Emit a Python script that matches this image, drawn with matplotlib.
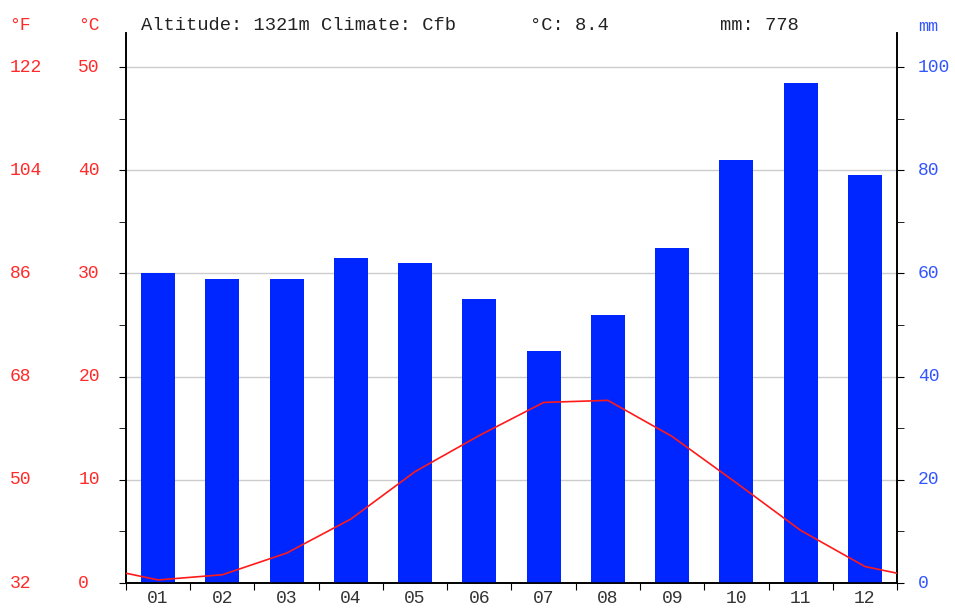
import numpy as np
import matplotlib
matplotlib.use("Agg")
import matplotlib.pyplot as plt
from matplotlib.ticker import MultipleLocator
from matplotlib.transforms import blended_transform_factory

months = ["01", "02", "03", "04", "05", "06", "07", "08", "09", "10", "11", "12"]
precip_mm = [60, 59, 59, 63, 62, 55, 45, 52, 65, 82, 97, 79]
temp_c = [0.3, 0.8, 2.9, 6.2, 10.8, 14.3, 17.5, 17.7, 14.2, 9.7, 5.1, 1.6]
altitude = 1321
climate = "Cfb"

red = "#ff2a2a"
blue = "#3355ff"
bar_blue = "#0026ff"
font = "Liberation Mono"
plt.rcParams["font.family"] = [font, "DejaVu Sans"]
fs = 13

fig = plt.figure(figsize=(9.55, 6.11), dpi=100)
ax = fig.add_axes([0.1319, 0.0458, 0.8074, 0.9002])
ax2 = ax.twinx()
ax.set_zorder(ax2.get_zorder() + 1)
ax.patch.set_visible(False)

x = np.arange(12)
ax2.bar(x, precip_mm, width=0.53, color=bar_blue, zorder=3)
ax2.set_ylim(0, 106.6)
ax2.yaxis.set_major_locator(MultipleLocator(20))
ax2.yaxis.set_minor_locator(MultipleLocator(10))
ax2.grid(axis="y", color="#cccccc", linewidth=1, zorder=0)
ax2.tick_params(axis="y", which="both", direction="out", colors="black",
                labelright=False, length=5)

# wrap temperature line to the edges using the Dec/Jan mean
edge = (temp_c[0] + temp_c[-1]) / 2
lx = np.concatenate([[-0.5], x, [11.5]])
ly = np.concatenate([[edge], temp_c, [edge]])
ax.plot(lx, ly, color="#ff1a1a", linewidth=1.2, zorder=5)

ax.set_xlim(-0.5, 11.5)
ax.set_ylim(0, 53.3)
ax.yaxis.set_major_locator(MultipleLocator(10))
ax.yaxis.set_minor_locator(MultipleLocator(5))
ax.tick_params(axis="y", which="both", direction="out", labelleft=False,
               length=5)

ax.set_xticks(np.arange(-0.5, 12, 1))
ax.set_xticklabels([])
ax.set_xticks(x, minor=True)
ax.set_xticklabels(months, minor=True, fontsize=fs, color="#333333")
ax.tick_params(axis="x", which="major", direction="out", length=5)
ax.tick_params(axis="x", which="minor", length=0, pad=5)

for a in (ax, ax2):
    a.spines["top"].set_visible(False)
    for s in ("left", "right", "bottom"):
        a.spines[s].set_color("black")
        a.spines[s].set_linewidth(1.2)

# left-aligned tick labels: Fahrenheit, Celsius, mm
trans = blended_transform_factory(fig.transFigure, ax.transData)
trans2 = blended_transform_factory(fig.transFigure, ax2.transData)
for c in range(0, 51, 10):
    f = c * 1.8 + 32
    ax.text(0.010, c, f"{f:.0f}", transform=trans, color=red, fontsize=fs,
            ha="left", va="center")
    ax.text(0.082, c, f"{c}", transform=trans, color=red, fontsize=fs,
            ha="left", va="center")
for m in range(0, 101, 20):
    ax2.text(0.961, m, f"{m}", transform=trans2, color=blue, fontsize=fs,
             ha="left", va="center")

fig.text(0.010, 0.959, "°F", color=red, fontsize=fs, ha="left", va="center")
fig.text(0.082, 0.959, "°C", color=red, fontsize=fs, ha="left", va="center")
fig.text(0.961, 0.956, "mm", color=blue, fontsize=12, ha="left", va="center")

fig.text(0.148, 0.959, f"Altitude: {altitude}m Climate: {climate}",
         fontsize=13.5, color="#222222", ha="left", va="center")
fig.text(0.555, 0.959, f"°C: {np.mean(temp_c):.1f}", fontsize=13.5,
         color="#222222", ha="left", va="center")
fig.text(0.754, 0.959, f"mm: {sum(precip_mm)}", fontsize=13.5,
         color="#222222", ha="left", va="center")

fig.savefig("out.png", dpi=100)
